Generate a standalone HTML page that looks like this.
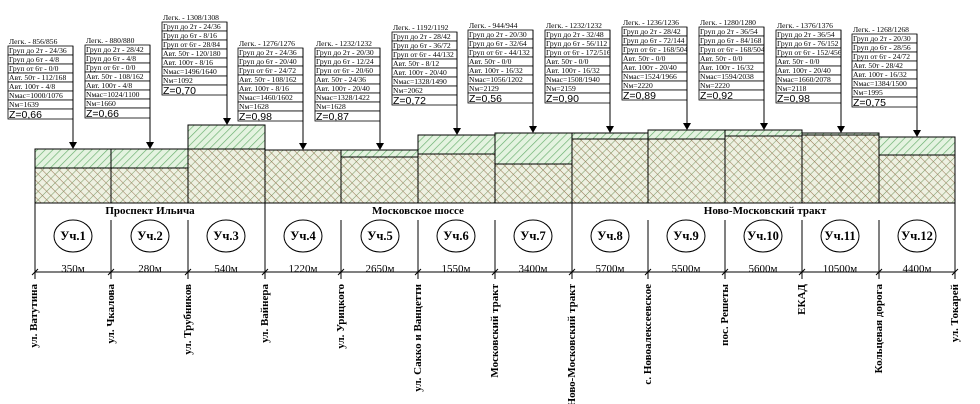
<!DOCTYPE html>
<html><head><meta charset="utf-8"><style>
html,body{margin:0;padding:0;background:#fff;}
svg{display:block}
.s{font-family:"Liberation Serif",serif;font-size:7.6px;fill:#000}
.z{font-family:"Liberation Sans",sans-serif;font-size:10.5px;fill:#000}
.b{font-family:"Liberation Serif",serif;font-weight:bold;font-size:11px;fill:#000}
.c{font-family:"Liberation Serif",serif;font-weight:bold;font-size:12.5px;fill:#000}
.d{font-family:"Liberation Serif",serif;font-size:11px;fill:#000}
.r{fill:#fff;stroke:#000;stroke-width:0.8}
</style></head><body>
<svg width="980" height="404" viewBox="0 0 980 404" xmlns="http://www.w3.org/2000/svg">
<defs>
<pattern id="g" width="5.5" height="5.5" patternUnits="userSpaceOnUse" patternTransform="rotate(45)"><rect width="6" height="6" fill="#e4f3e0"/><line x1="0" y1="0" x2="0" y2="6" stroke="#66ad6c" stroke-width="1.3"/></pattern>
<pattern id="x" width="6" height="6" patternUnits="userSpaceOnUse" patternTransform="rotate(45)"><rect width="6" height="6" fill="#eef1e2"/><line x1="0" y1="0" x2="0" y2="6" stroke="#7f9c6a" stroke-width="1.1"/><line x1="0" y1="0" x2="6" y2="0" stroke="#9c7c5a" stroke-width="1.1"/></pattern>
<g id="box"><rect class="r" x="0" y="5" width="65" height="9"/><rect class="r" x="0" y="14" width="65" height="9"/><rect class="r" x="0" y="23" width="65" height="9"/><rect class="r" x="0" y="32" width="65" height="9"/><rect class="r" x="0" y="41" width="65" height="9"/><rect class="r" x="0" y="50" width="65" height="9"/><rect class="r" x="0" y="59" width="65" height="9"/><rect class="r" x="0" y="68" width="65" height="10"/></g>
</defs>

<g stroke="#000" stroke-width="1">
<rect x="35" y="149" width="76" height="19" fill="url(#g)"/><rect x="35" y="168" width="76" height="35" fill="url(#x)"/>
<rect x="111" y="149" width="77" height="19" fill="url(#g)"/><rect x="111" y="168" width="77" height="35" fill="url(#x)"/>
<rect x="188" y="125" width="77" height="24" fill="url(#g)"/><rect x="188" y="149" width="77" height="54" fill="url(#x)"/>
<rect x="265" y="150" width="76" height="53" fill="url(#x)"/>
<rect x="341" y="150" width="77" height="7" fill="url(#g)"/><rect x="341" y="157" width="77" height="46" fill="url(#x)"/>
<rect x="418" y="135" width="77" height="19" fill="url(#g)"/><rect x="418" y="154" width="77" height="49" fill="url(#x)"/>
<rect x="495" y="133" width="77" height="31" fill="url(#g)"/><rect x="495" y="164" width="77" height="39" fill="url(#x)"/>
<rect x="572" y="133" width="76" height="6" fill="url(#g)"/><rect x="572" y="139" width="76" height="64" fill="url(#x)"/>
<rect x="648" y="130" width="77" height="9" fill="url(#g)"/><rect x="648" y="139" width="77" height="64" fill="url(#x)"/>
<rect x="725" y="130" width="77" height="6" fill="url(#g)"/><rect x="725" y="136" width="77" height="67" fill="url(#x)"/>
<rect x="802" y="133" width="77" height="2" fill="url(#g)"/><rect x="802" y="135" width="77" height="68" fill="url(#x)"/>
<rect x="879" y="137" width="76" height="18" fill="url(#g)"/><rect x="879" y="155" width="76" height="48" fill="url(#x)"/>
</g>

<g stroke="#000" stroke-width="1" fill="none">
<line x1="35" y1="203" x2="955" y2="203"/>
<line x1="35" y1="272" x2="955" y2="272"/>
<line x1="35" y1="203" x2="35" y2="279"/><line x1="955" y1="203" x2="955" y2="279"/>
<line x1="265" y1="203" x2="265" y2="279"/><line x1="572" y1="203" x2="572" y2="279"/>
<line x1="111" y1="220" x2="111" y2="279"/><line x1="188" y1="220" x2="188" y2="279"/>
<line x1="341" y1="220" x2="341" y2="279"/><line x1="418" y1="220" x2="418" y2="279"/>
<line x1="495" y1="220" x2="495" y2="279"/><line x1="648" y1="220" x2="648" y2="279"/>
<line x1="725" y1="220" x2="725" y2="279"/><line x1="802" y1="220" x2="802" y2="279"/>
<line x1="879" y1="220" x2="879" y2="279"/>
<path d="M32 275L38 269M108 275L114 269M185 275L191 269M262 275L268 269M338 275L344 269M415 275L421 269M492 275L498 269M569 275L575 269M645 275L651 269M722 275L728 269M799 275L805 269M876 275L882 269M952 275L958 269"/>
<ellipse cx="73" cy="236" rx="19" ry="16"/><ellipse cx="150" cy="236" rx="19" ry="16"/><ellipse cx="226" cy="236" rx="19" ry="16"/><ellipse cx="303" cy="236" rx="19" ry="16"/><ellipse cx="380" cy="236" rx="19" ry="16"/><ellipse cx="456" cy="236" rx="19" ry="16"/><ellipse cx="533" cy="236" rx="19" ry="16"/><ellipse cx="610" cy="236" rx="19" ry="16"/><ellipse cx="686" cy="236" rx="19" ry="16"/><ellipse cx="763" cy="236" rx="19" ry="16"/><ellipse cx="840" cy="236" rx="19" ry="16"/><ellipse cx="917" cy="236" rx="19" ry="16"/>
</g>
<g text-anchor="middle">
<text class="b" x="150" y="214">Проспект Ильича</text>
<text class="b" x="418" y="214">Московское шоссе</text>
<text class="b" x="765" y="214">Ново-Московский тракт</text>
<text class="c" x="73" y="240">Уч.1</text><text class="c" x="150" y="240">Уч.2</text><text class="c" x="226" y="240">Уч.3</text><text class="c" x="303" y="240">Уч.4</text><text class="c" x="380" y="240">Уч.5</text><text class="c" x="456" y="240">Уч.6</text><text class="c" x="533" y="240">Уч.7</text><text class="c" x="610" y="240">Уч.8</text><text class="c" x="686" y="240">Уч.9</text><text class="c" x="763" y="240">Уч.10</text><text class="c" x="840" y="240">Уч.11</text><text class="c" x="917" y="240">Уч.12</text>
<text class="d" x="73" y="272">350м</text><text class="d" x="150" y="272">280м</text><text class="d" x="226" y="272">540м</text><text class="d" x="303" y="272">1220м</text><text class="d" x="380" y="272">2650м</text><text class="d" x="456" y="272">1550м</text><text class="d" x="533" y="272">3400м</text><text class="d" x="610" y="272">5700м</text><text class="d" x="686" y="272">5500м</text><text class="d" x="763" y="272">5600м</text><text class="d" x="840" y="272">10500м</text><text class="d" x="917" y="272">4400м</text>
</g>
<g text-anchor="end">
<text class="b" transform="translate(37,284) rotate(-90)">ул. Ватутина</text>
<text class="b" transform="translate(114,284) rotate(-90)">ул. Чкалова</text>
<text class="b" transform="translate(191,284) rotate(-90)">ул. Трубников</text>
<text class="b" transform="translate(268,284) rotate(-90)">ул. Вайнера</text>
<text class="b" transform="translate(344,284) rotate(-90)">ул. Урицкого</text>
<text class="b" transform="translate(421,284) rotate(-90)">ул. Сакко и Ванцетти</text>
<text class="b" transform="translate(498,284) rotate(-90)">Московский тракт</text>
<text class="b" transform="translate(575,284) rotate(-90)">Ново-Московский тракт</text>
<text class="b" transform="translate(651,284) rotate(-90)">с. Новоалексеевское</text>
<text class="b" transform="translate(728,284) rotate(-90)">пос. Решеты</text>
<text class="b" transform="translate(805,284) rotate(-90)">ЕКАД</text>
<text class="b" transform="translate(882,284) rotate(-90)">Кольцевая дорога</text>
<text class="b" transform="translate(958,284) rotate(-90)">ул. Токарей</text>
</g>

<g transform="translate(8,41)"><use href="#box"/><text class="s" x="1" y="3">Легк. - 856/856</text><text class="s" x="1" y="12">Груп до 2т - 24/36</text><text class="s" x="1" y="21">Груп до 6т - 4/8</text><text class="s" x="1" y="30">Груп от 6т - 0/0</text><text class="s" x="1" y="39">Авт. 50т - 112/168</text><text class="s" x="1" y="48">Авт. 100т - 4/8</text><text class="s" x="1" y="57">Nмас=1000/1076</text><text class="s" x="1" y="66">Nм=1639</text><text class="z" x="1" y="77">Z=0,66</text><line x1="65" y1="5" x2="65" y2="102" stroke="#000"/><path d="M61 101L69 101L65 108Z"/></g>
<g transform="translate(85,40)"><use href="#box"/><text class="s" x="1" y="3">Легк. - 880/880</text><text class="s" x="1" y="12">Груп до 2т - 28/42</text><text class="s" x="1" y="21">Груп до 6т - 4/8</text><text class="s" x="1" y="30">Груп от 6т - 0/0</text><text class="s" x="1" y="39">Авт. 50т - 108/162</text><text class="s" x="1" y="48">Авт. 100т - 4/8</text><text class="s" x="1" y="57">Nмас=1024/1100</text><text class="s" x="1" y="66">Nм=1660</text><text class="z" x="1" y="77">Z=0,66</text><line x1="65" y1="5" x2="65" y2="103" stroke="#000"/><path d="M61 102L69 102L65 109Z"/></g>
<g transform="translate(162,17)"><use href="#box"/><text class="s" x="1" y="3">Легк. - 1308/1308</text><text class="s" x="1" y="12">Груп до 2т - 24/36</text><text class="s" x="1" y="21">Груп до 6т - 8/16</text><text class="s" x="1" y="30">Груп от 6т - 28/84</text><text class="s" x="1" y="39">Авт. 50т - 120/180</text><text class="s" x="1" y="48">Авт. 100т - 8/16</text><text class="s" x="1" y="57">Nмас=1496/1640</text><text class="s" x="1" y="66">Nм=1092</text><text class="z" x="1" y="77">Z=0,70</text><line x1="65" y1="5" x2="65" y2="102" stroke="#000"/><path d="M61 101L69 101L65 108Z"/></g>
<g transform="translate(238,43)"><use href="#box"/><text class="s" x="1" y="3">Легк. - 1276/1276</text><text class="s" x="1" y="12">Груп до 2т - 24/36</text><text class="s" x="1" y="21">Груп до 6т - 20/40</text><text class="s" x="1" y="30">Груп от 6т - 24/72</text><text class="s" x="1" y="39">Авт. 50т - 108/162</text><text class="s" x="1" y="48">Авт. 100т - 8/16</text><text class="s" x="1" y="57">Nмас=1460/1602</text><text class="s" x="1" y="66">Nм=1628</text><text class="z" x="1" y="77">Z=0,98</text><line x1="65" y1="5" x2="65" y2="101" stroke="#000"/><path d="M61 100L69 100L65 107Z"/></g>
<g transform="translate(315,43)"><use href="#box"/><text class="s" x="1" y="3">Легк. - 1232/1232</text><text class="s" x="1" y="12">Груп до 2т - 20/30</text><text class="s" x="1" y="21">Груп до 6т - 12/24</text><text class="s" x="1" y="30">Груп от 6т - 20/60</text><text class="s" x="1" y="39">Авт. 50т - 24/36</text><text class="s" x="1" y="48">Авт. 100т - 20/40</text><text class="s" x="1" y="57">Nмас=1328/1422</text><text class="s" x="1" y="66">Nм=1628</text><text class="z" x="1" y="77">Z=0,87</text><line x1="65" y1="5" x2="65" y2="101" stroke="#000"/><path d="M61 100L69 100L65 107Z"/></g>
<g transform="translate(392,27)"><use href="#box"/><text class="s" x="1" y="3">Легк. - 1192/1192</text><text class="s" x="1" y="12">Груп до 2т - 28/42</text><text class="s" x="1" y="21">Груп до 6т - 36/72</text><text class="s" x="1" y="30">Груп от 6т - 44/132</text><text class="s" x="1" y="39">Авт. 50т - 8/12</text><text class="s" x="1" y="48">Авт. 100т - 20/40</text><text class="s" x="1" y="57">Nмас=1328/1490</text><text class="s" x="1" y="66">Nм=2062</text><text class="z" x="1" y="77">Z=0,72</text><line x1="65" y1="5" x2="65" y2="102" stroke="#000"/><path d="M61 101L69 101L65 108Z"/></g>
<g transform="translate(468,25)"><use href="#box"/><text class="s" x="1" y="3">Легк. - 944/944</text><text class="s" x="1" y="12">Груп до 2т - 20/30</text><text class="s" x="1" y="21">Груп до 6т - 32/64</text><text class="s" x="1" y="30">Груп от 6т - 44/132</text><text class="s" x="1" y="39">Авт. 50т - 0/0</text><text class="s" x="1" y="48">Авт. 100т - 16/32</text><text class="s" x="1" y="57">Nмас=1056/1202</text><text class="s" x="1" y="66">Nм=2129</text><text class="z" x="1" y="77">Z=0,56</text><line x1="65" y1="5" x2="65" y2="102" stroke="#000"/><path d="M61 101L69 101L65 108Z"/></g>
<g transform="translate(545,25)"><use href="#box"/><text class="s" x="1" y="3">Легк. - 1232/1232</text><text class="s" x="1" y="12">Груп до 2т - 32/48</text><text class="s" x="1" y="21">Груп до 6т - 56/112</text><text class="s" x="1" y="30">Груп от 6т - 172/516</text><text class="s" x="1" y="39">Авт. 50т - 0/0</text><text class="s" x="1" y="48">Авт. 100т - 16/32</text><text class="s" x="1" y="57">Nмас=1508/1940</text><text class="s" x="1" y="66">Nм=2159</text><text class="z" x="1" y="77">Z=0,90</text><line x1="65" y1="5" x2="65" y2="102" stroke="#000"/><path d="M61 101L69 101L65 108Z"/></g>
<g transform="translate(622,22)"><use href="#box"/><text class="s" x="1" y="3">Легк. - 1236/1236</text><text class="s" x="1" y="12">Груп до 2т - 28/42</text><text class="s" x="1" y="21">Груп до 6т - 72/144</text><text class="s" x="1" y="30">Груп от 6т - 168/504</text><text class="s" x="1" y="39">Авт. 50т - 0/0</text><text class="s" x="1" y="48">Авт. 100т - 20/40</text><text class="s" x="1" y="57">Nмас=1524/1966</text><text class="s" x="1" y="66">Nм=2220</text><text class="z" x="1" y="77">Z=0,89</text><line x1="65" y1="5" x2="65" y2="102" stroke="#000"/><path d="M61 101L69 101L65 108Z"/></g>
<g transform="translate(699,22)"><use href="#box"/><text class="s" x="1" y="3">Легк. - 1280/1280</text><text class="s" x="1" y="12">Груп до 2т - 36/54</text><text class="s" x="1" y="21">Груп до 6т - 84/168</text><text class="s" x="1" y="30">Груп от 6т - 168/504</text><text class="s" x="1" y="39">Авт. 50т - 0/0</text><text class="s" x="1" y="48">Авт. 100т - 16/32</text><text class="s" x="1" y="57">Nмас=1594/2038</text><text class="s" x="1" y="66">Nм=2220</text><text class="z" x="1" y="77">Z=0,92</text><line x1="65" y1="5" x2="65" y2="102" stroke="#000"/><path d="M61 101L69 101L65 108Z"/></g>
<g transform="translate(776,25)"><use href="#box"/><text class="s" x="1" y="3">Легк. - 1376/1376</text><text class="s" x="1" y="12">Груп до 2т - 36/54</text><text class="s" x="1" y="21">Груп до 6т - 76/152</text><text class="s" x="1" y="30">Груп от 6т - 152/456</text><text class="s" x="1" y="39">Авт. 50т - 0/0</text><text class="s" x="1" y="48">Авт. 100т - 20/40</text><text class="s" x="1" y="57">Nмас=1660/2078</text><text class="s" x="1" y="66">Nм=2118</text><text class="z" x="1" y="77">Z=0,98</text><line x1="65" y1="5" x2="65" y2="102" stroke="#000"/><path d="M61 101L69 101L65 108Z"/></g>
<g transform="translate(852,29)"><use href="#box"/><text class="s" x="1" y="3">Легк. - 1268/1268</text><text class="s" x="1" y="12">Груп до 2т - 20/30</text><text class="s" x="1" y="21">Груп до 6т - 28/56</text><text class="s" x="1" y="30">Груп от 6т - 24/72</text><text class="s" x="1" y="39">Авт. 50т - 28/42</text><text class="s" x="1" y="48">Авт. 100т - 16/32</text><text class="s" x="1" y="57">Nмас=1384/1500</text><text class="s" x="1" y="66">Nм=1995</text><text class="z" x="1" y="77">Z=0,75</text><line x1="65" y1="5" x2="65" y2="102" stroke="#000"/><path d="M61 101L69 101L65 108Z"/></g>
</svg>
</body></html>
